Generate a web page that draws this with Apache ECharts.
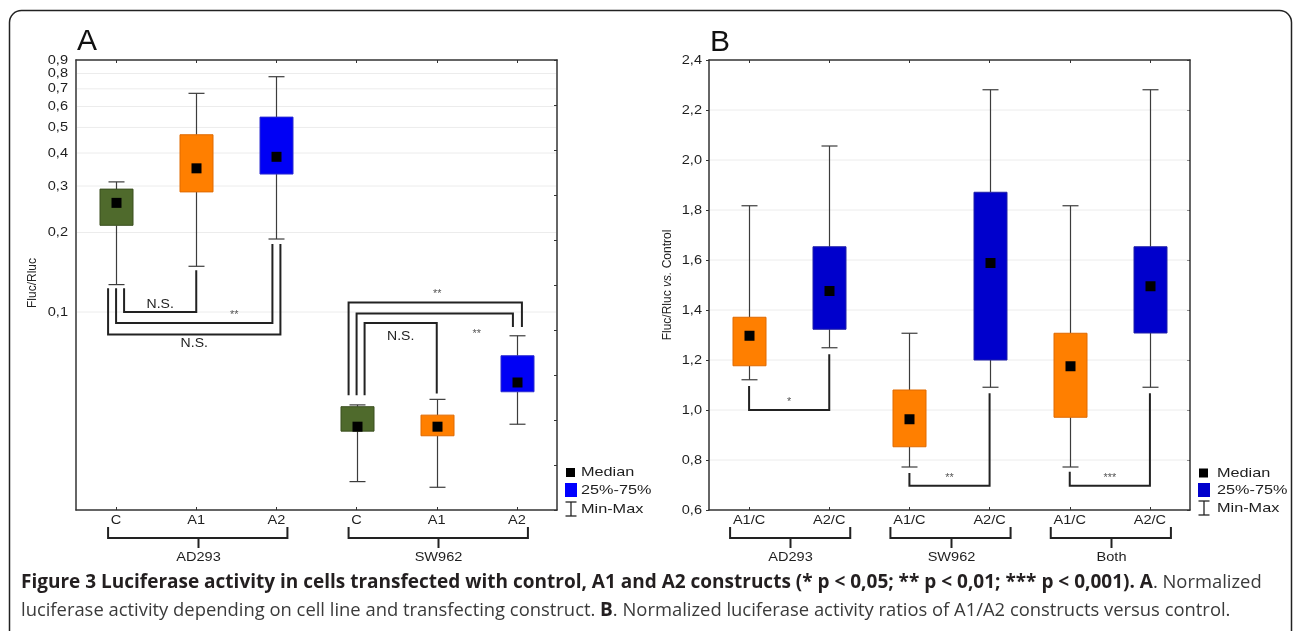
<!DOCTYPE html>
<html>
<head>
<meta charset="utf-8">
<script src="https://cdn.jsdelivr.net/npm/echarts@6/dist/echarts.min.js"></script>
<style>
  html, body { margin: 0; padding: 0; background: #fff; }
  #chart { width: 1293px; height: 631px; }
</style>
</head>
<body>
<div id="chart"></div>
<script>
// ---- data, panel A (Fluc/Rluc, log scale) ----
const catsA = ['C', 'A1', 'A2', 'C', 'A1', 'A2'];
const groupsA = [[0, 2], [3, 5]];
const groupNamesA = ['AD293', 'SW962'];
const minA = [0.127, 0.149, 0.189, 0.0228, 0.0217, 0.0376];
const q1A = [0.213, 0.285, 0.333, 0.0354, 0.0340, 0.0499];
const medA = [0.259, 0.350, 0.387, 0.0368, 0.0368, 0.0541];
const q3A = [0.292, 0.469, 0.547, 0.0438, 0.0407, 0.0683];
const maxA = [0.311, 0.673, 0.778, 0.0445, 0.0467, 0.0813];
const ticksA = [0.1, 0.2, 0.3, 0.4, 0.5, 0.6, 0.7, 0.8, 0.9];
// brackets: [fromCat, toCat, startValue, levelValue, endValue]
const sigA = [
  [0, 1, 0.123, 0.100, 0.144],
  [0, 2, 0.123, 0.0908, 0.181],
  [0, 2, 0.123, 0.0822, 0.181],
  [3, 5, 0.0484, 0.1087, 0.0877],
  [3, 5, 0.0484, 0.0988, 0.0877],
  [3, 4, 0.0484, 0.0908, 0.0492]
];
const sigTextA = ['N.S.', '**', 'N.S.', '**', '**', 'N.S.'];

// ---- data, panel B (ratio vs. control) ----
const catsB = ['A1/C', 'A2/C', 'A1/C', 'A2/C', 'A1/C', 'A2/C'];
const groupsB = [[0, 1], [2, 3], [4, 5]];
const groupNamesB = ['AD293', 'SW962', 'Both'];
const minB = [1.121, 1.249, 0.772, 1.091, 0.772, 1.091];
const q1B = [1.177, 1.323, 0.853, 1.200, 0.971, 1.308];
const medB = [1.297, 1.476, 0.963, 1.588, 1.175, 1.495];
const q3B = [1.371, 1.653, 1.080, 1.871, 1.307, 1.653];
const maxB = [1.817, 2.056, 1.307, 2.281, 1.817, 2.281];
const ticksB = [0.6, 0.8, 1.0, 1.2, 1.4, 1.6, 1.8, 2.0, 2.2, 2.4];
const sigB = [
  [0, 1, 1.096, 1.0, 1.223],
  [2, 3, 0.748, 0.697, 1.067],
  [4, 5, 0.753, 0.697, 1.067]
];
const sigTextB = ['*', '**', '***'];

// ---- styles / layout ----
const FONT = '"Liberation Sans", Arial, sans-serif';
const CAP_FONT = '"Open Sans", sans-serif';
const SX = 1.12;
const GREEN = '#4f6a2c', ORANGE = '#ff7f00', BLUE_A = '#0000f5', BLUE_B = '#0000cc';
const fillA = [GREEN, ORANGE, BLUE_A, GREEN, ORANGE, BLUE_A];
const edgeA = ['#3a4f1f', '#e06a00', '#2a2ad0', '#3a4f1f', '#e06a00', '#2a2ad0'];
const fillB = [ORANGE, BLUE_B, ORANGE, BLUE_B, ORANGE, BLUE_B];
const edgeB = ['#e06a00', '#2020a8', '#e06a00', '#2020a8', '#e06a00', '#2020a8'];
// [fromDx, toDx, labelDx, labelDy] in pixels
const sigLayoutA = [[8, 0, 0, -8], [0, -4, 40, -10], [-8, 4, 0, 9], [-8, 5, 2, -10], [0, -4, 42, 19], [8, 0, 0, 13]];
const sigLayoutB = [[0, 0, 0, -10], [0, 0, 0, -10], [0, 0, 0, -10]];

function txt(x, y, s, size, extra, sx) {
  return {
    type: 'text', x: x, y: y, scaleX: sx || SX,
    style: Object.assign({
      text: s, fill: '#1e1e1e', fontSize: size, fontFamily: FONT,
      align: 'center', verticalAlign: 'middle'
    }, extra || {})
  };
}

function gridSeries(gi, ticks, gap) {
  return {
    type: 'custom', xAxisIndex: gi * 2, yAxisIndex: gi * 2, z: 1, silent: true,
    encode: { x: 0, y: 1 },
    data: ticks.map(v => [0, v]),
    renderItem: function (params, api) {
      const cs = params.coordSys;
      const v = api.value(1);
      const y = api.coord([0, v])[1];
      const kids = [txt(cs.x - gap, y, v.toFixed(1).replace('.', ','), 13, { align: 'right' })];
      if (y > cs.y + 1 && y < cs.y + cs.height - 1) {
        kids.unshift({ type: 'line', shape: { x1: cs.x + 1, y1: y, x2: cs.x + cs.width - 1, y2: y },
          style: { stroke: '#ececec', lineWidth: 1 } });
      }
      return { type: 'group', children: kids };
    }
  };
}

function boxSeries(gi, mins, q1s, meds, q3s, maxs, fills, edges) {
  return {
    type: 'custom', xAxisIndex: gi * 2, yAxisIndex: gi * 2, z: 3, silent: true,
    encode: { x: 0, y: [1, 2, 3, 4, 5] },
    data: mins.map((m, i) => [i, mins[i], q1s[i], meds[i], q3s[i], maxs[i]]),
    renderItem: function (params, api) {
      const i = api.value(0);
      const x = Math.round(api.coord([i, api.value(3)])[0]) + 0.5;
      const y = k => api.coord([i, api.value(k)])[1];
      const yMin = y(1), yQ1 = y(2), yMed = y(3), yQ3 = y(4), yMax = y(5);
      const wk = { stroke: '#3c3c3c', lineWidth: 1.2 };
      return { type: 'group', children: [
        { type: 'line', shape: { x1: x, y1: yMax, x2: x, y2: yQ3 }, style: wk },
        { type: 'line', shape: { x1: x, y1: yQ1, x2: x, y2: yMin }, style: wk },
        { type: 'line', shape: { x1: x - 8, y1: yMax, x2: x + 8, y2: yMax }, style: wk },
        { type: 'line', shape: { x1: x - 8, y1: yMin, x2: x + 8, y2: yMin }, style: wk },
        { type: 'rect', shape: { x: x - 16.5, y: yQ3, width: 33, height: yQ1 - yQ3 },
          style: { fill: fills[i], stroke: edges[i], lineWidth: 1 } },
        { type: 'rect', shape: { x: x - 5, y: yMed - 5, width: 10, height: 10 }, style: { fill: '#000' } }
      ]};
    }
  };
}

function sigSeries(gi, sig, texts, layout) {
  return {
    type: 'custom', xAxisIndex: gi * 2, yAxisIndex: gi * 2, z: 4, silent: true,
    encode: { x: [0, 1], y: [2, 3, 4] },
    data: sig,
    renderItem: function (params, api) {
      const k = params.dataIndex, L = layout[k];
      const lv = api.value(3);
      const x1 = api.coord([api.value(0), lv])[0] + L[0];
      const x2 = api.coord([api.value(1), lv])[0] + L[1];
      const y0 = api.coord([api.value(0), api.value(2)])[1];
      const yl = api.coord([api.value(0), lv])[1];
      const y1 = api.coord([api.value(1), api.value(4)])[1];
      const t = texts[k];
      const star = t.indexOf('*') >= 0;
      return { type: 'group', children: [
        { type: 'polyline', shape: { points: [[x1, y0], [x1, yl], [x2, yl], [x2, y1]] },
          style: { stroke: '#222', lineWidth: 2, fill: null } },
        txt((x1 + x2) / 2 + L[2], yl + L[3] + (star ? 2 : 0), t, star ? 10 : 13,
          { fill: star ? '#555' : '#222' }, 1.08)
      ]};
    }
  };
}

function catSeries(gi, cats, yRef) {
  return {
    type: 'custom', xAxisIndex: gi * 2, yAxisIndex: gi * 2, z: 2, silent: true,
    encode: { x: 0 },
    data: cats.map((c, i) => [i]),
    renderItem: function (params, api) {
      const cs = params.coordSys;
      const i = api.value(0);
      const x = api.coord([i, yRef])[0];
      return txt(x, cs.y + cs.height + 10, cats[i], 13);
    }
  };
}

function groupSeries(gi, groups, names, yRef, padL, padR) {
  return {
    type: 'custom', xAxisIndex: gi * 2, yAxisIndex: gi * 2, z: 2, silent: true,
    encode: { x: [0, 1] },
    data: groups,
    renderItem: function (params, api) {
      const cs = params.coordSys;
      const b = cs.y + cs.height;
      const x1 = api.coord([api.value(0), yRef])[0] - padL;
      const x2 = api.coord([api.value(1), yRef])[0] + padR;
      const xm = Math.round((x1 + x2) / 2) + 0.5;
      const st = { stroke: '#222', lineWidth: 2, fill: null };
      return { type: 'group', children: [
        { type: 'polyline', shape: { points: [[x1, b + 17], [x1, b + 28], [x2, b + 28], [x2, b + 17]] }, style: st },
        { type: 'line', shape: { x1: xm, y1: b + 28, x2: xm, y2: b + 38 }, style: st },
        txt(xm, b + 47, names[params.dataIndex], 13)
      ]};
    }
  };
}

function legend(sqX, tx, ys, blue) {
  const cx = sqX + 5;
  const st = { stroke: '#222', lineWidth: 1.3 };
  return [
    { type: 'rect', shape: { x: sqX, y: ys[0] - 4.5, width: 9, height: 9 }, style: { fill: '#000' } },
    { type: 'rect', shape: { x: sqX - 1, y: ys[1] - 7, width: 12, height: 14 }, style: { fill: blue } },
    { type: 'line', shape: { x1: cx, y1: ys[2] - 7, x2: cx, y2: ys[2] + 7 }, style: st },
    { type: 'line', shape: { x1: cx - 5.5, y1: ys[2] - 7, x2: cx + 5.5, y2: ys[2] - 7 }, style: st },
    { type: 'line', shape: { x1: cx - 5.5, y1: ys[2] + 7, x2: cx + 5.5, y2: ys[2] + 7 }, style: st },
    txt(tx, ys[0], 'Median', 13, { align: 'left' }, 1.25),
    txt(tx, ys[1], '25%-75%', 13, { align: 'left' }, 1.25),
    txt(tx, ys[2], 'Min-Max', 13, { align: 'left' }, 1.25)
  ];
}

const axisLineStyle = { lineStyle: { color: '#333', width: 1.5 } };
function catAxis(gi, cats, pos) {
  return {
    type: 'category', gridIndex: gi, data: cats, position: pos,
    axisLine: axisLineStyle,
    axisTick: { show: true, inside: true, alignWithLabel: true, length: 3, lineStyle: { color: '#333' } },
    axisLabel: { show: false }, splitLine: { show: false }
  };
}

const capRich = {
  b: { fontSize: 19, fontFamily: CAP_FONT, fontWeight: 'bold', fill: '#231f20' },
  r: { fontSize: 18.4, fontFamily: CAP_FONT, fill: '#3a3a3a' }
};

const chart = echarts.init(document.getElementById('chart'));
chart.setOption({
  animation: false,
  backgroundColor: '#fff',
  grid: [
    { left: 76, top: 60, width: 481, height: 450 },
    { left: 709, top: 60, width: 481, height: 450 }
  ],
  xAxis: [
    catAxis(0, catsA, 'bottom'), catAxis(0, catsA, 'top'),
    catAxis(1, catsB, 'bottom'), catAxis(1, catsB, 'top')
  ],
  yAxis: [
    { type: 'log', gridIndex: 0, logBase: 10, min: 0.0178, max: 0.9,
      axisLine: Object.assign({ show: true }, axisLineStyle), axisTick: { show: false },
      axisLabel: { show: false }, splitLine: { show: false } },
    { type: 'value', gridIndex: 0, position: 'right', min: 0, max: 10, interval: 1,
      axisLine: Object.assign({ show: true }, axisLineStyle),
      axisTick: { show: true, inside: true, length: 3, lineStyle: { color: '#333' } },
      axisLabel: { show: false }, splitLine: { show: false } },
    { type: 'value', gridIndex: 1, min: 0.6, max: 2.4, interval: 0.2,
      axisLine: Object.assign({ show: true }, axisLineStyle),
      axisTick: { show: true, length: 3, lineStyle: { color: '#333' } },
      axisLabel: { show: false }, splitLine: { show: false } },
    { type: 'value', gridIndex: 1, position: 'right', min: 0.6, max: 2.4, interval: 0.2,
      axisLine: Object.assign({ show: true }, axisLineStyle),
      axisTick: { show: true, inside: true, length: 3, lineStyle: { color: '#333' } },
      axisLabel: { show: false }, splitLine: { show: false } }
  ],
  series: [
    gridSeries(0, ticksA, 8),
    gridSeries(1, ticksB, 7),
    boxSeries(0, minA, q1A, medA, q3A, maxA, fillA, edgeA),
    boxSeries(1, minB, q1B, medB, q3B, maxB, fillB, edgeB),
    sigSeries(0, sigA, sigTextA, sigLayoutA),
    sigSeries(1, sigB, sigTextB, sigLayoutB),
    catSeries(0, catsA, 0.1),
    catSeries(1, catsB, 1.0),
    groupSeries(0, groupsA, groupNamesA, 0.1, 8, 11),
    groupSeries(1, groupsB, groupNamesB, 1.0, 19, 21)
  ],
  graphic: [
    { type: 'rect', shape: { x: 9.5, y: 10.5, width: 1282, height: 680, r: 12 },
      style: { fill: null, stroke: '#222', lineWidth: 1.5 } },
    { type: 'text', x: 77, y: 42, style: { text: 'A', fontSize: 30, fontFamily: FONT, fill: '#111', verticalAlign: 'middle' } },
    { type: 'text', x: 710, y: 43, style: { text: 'B', fontSize: 30, fontFamily: FONT, fill: '#111', verticalAlign: 'middle' } },
    { type: 'text', x: 33, y: 283, rotation: Math.PI / 2,
      style: { text: 'Fluc/Rluc', fontSize: 12, fontFamily: FONT, fill: '#222', align: 'center', verticalAlign: 'middle' } },
    { type: 'text', x: 668, y: 285, rotation: Math.PI / 2,
      style: { text: '{n|Fluc/Rluc }{i|vs.}{n| Control}', align: 'center', verticalAlign: 'middle',
        rich: { n: { fontSize: 12, fontFamily: FONT, fill: '#222' },
                i: { fontSize: 12, fontFamily: FONT, fill: '#222', fontStyle: 'italic' } } } },
    ...legend(566, 581, [472.5, 490, 509], '#0000ff'),
    ...legend(1199, 1217, [473, 490, 508], BLUE_B),
    { type: 'text', x: 21, y: 583,
      style: { text: '{b|Figure 3 Luciferase activity in cells transfected with control, A1 and A2 constructs (* p < 0,05; ** p < 0,01; *** p < 0,001). A}{r|. Normalized}',
        verticalAlign: 'middle', rich: capRich } },
    { type: 'text', x: 21, y: 611,
      style: { text: '{r|luciferase activity depending on cell line and transfecting construct. }{b|B}{r|. Normalized luciferase activity ratios of A1/A2 constructs versus control.}',
        verticalAlign: 'middle', rich: capRich } }
  ]
});
window.addEventListener('resize', () => chart.resize());
</script>
</body>
</html>
